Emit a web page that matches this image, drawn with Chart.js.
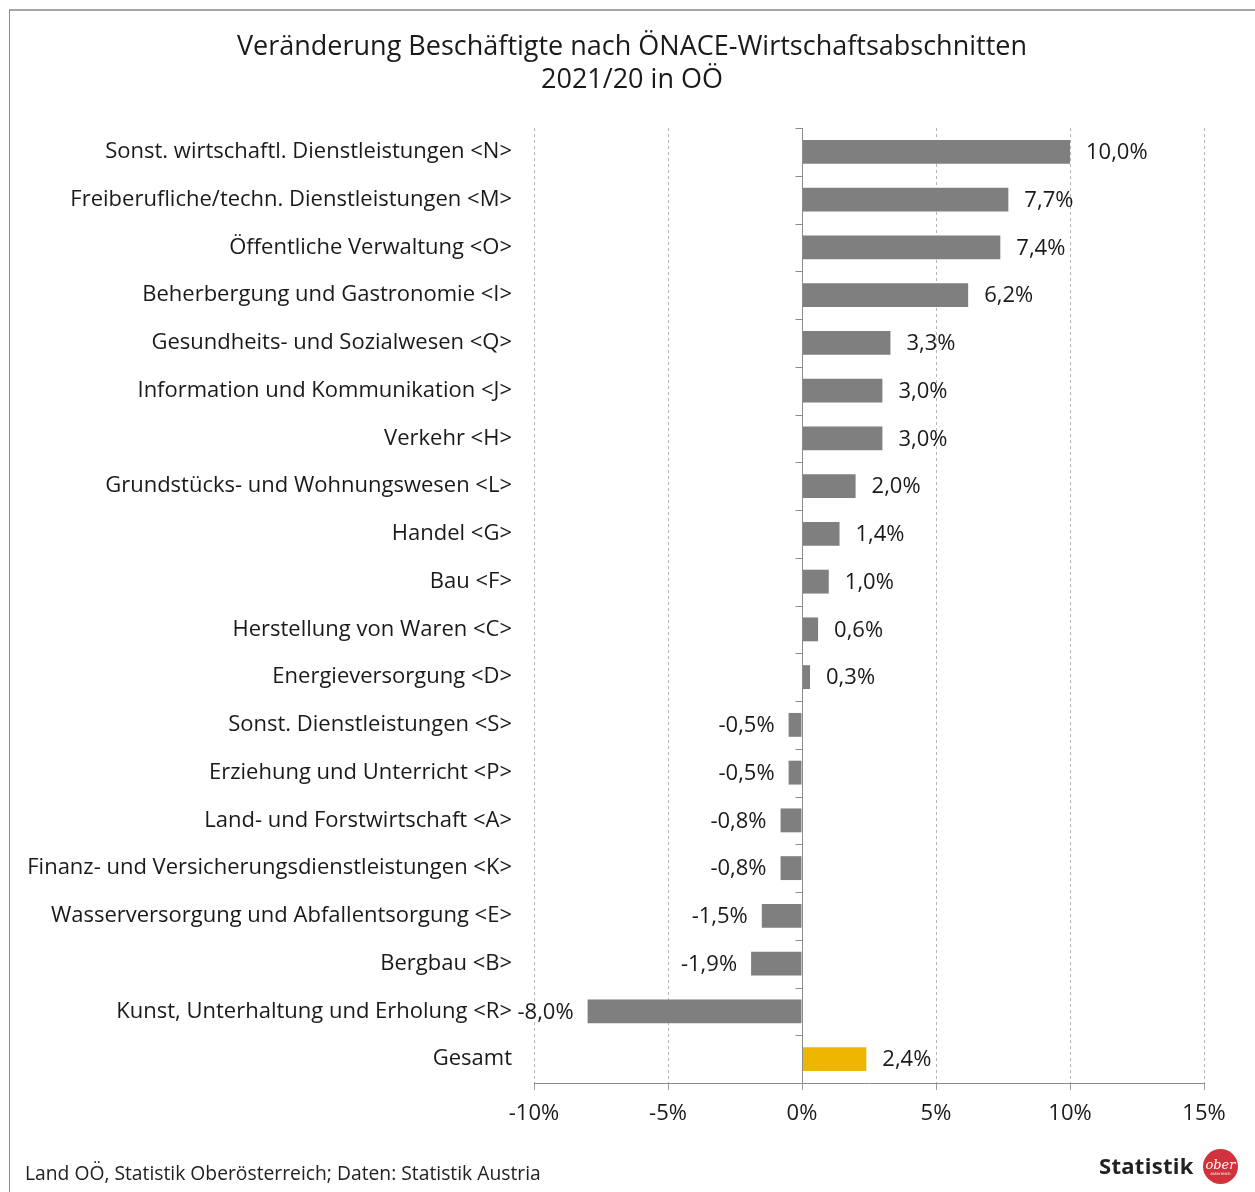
<!DOCTYPE html>
<html lang="de">
<head>
<meta charset="utf-8">
<script src="https://cdn.jsdelivr.net/npm/chart.js@4.4.1/dist/chart.umd.min.js"></script>
<style>
  html, body { margin: 0; padding: 0; background: #fff; }
  #wrap { position: relative; width: 1255px; height: 1192px; overflow: hidden; }
  #frame { position: absolute; left: 9px; top: 9px; width: 1300px; height: 1300px;
           border-top: 2px solid #a6a6a6; border-left: 1px solid #8c8c8c; }
  canvas { position: absolute; left: 0; top: 0; }
  #title { position: absolute; left: 0; top: 28px; width: 1264px; text-align: center;
           font-family: "Open Sans", sans-serif; font-size: 27px; line-height: 33px; color: #1a1a1a; }
  #source { position: absolute; left: 25px; top: 1159px; font-family: "Open Sans", sans-serif;
            font-size: 19.3px; color: #222; }
  #logo { position: absolute; left: 1099px; top: 1149px; height: 36px; }
  #logo .txt { position: absolute; left: 0; top: 1px; font-family: "Open Sans", sans-serif; font-weight: 700;
               font-size: 22px; color: #222; letter-spacing: 0.3px; }
  #logo .circ { position: absolute; left: 104px; top: 0; width: 35px; height: 35px; border-radius: 50%;
                background: #d1323b; color: #fff; text-align: center; }
  #logo .circ .a { font-family: "DejaVu Serif", serif; font-style: italic; font-size: 13px; line-height: 13px;
                   display: block; margin-top: 9px; }
  #logo .circ .b { font-family: "DejaVu Sans", sans-serif; font-size: 4px; line-height: 5px; display: block; }
</style>
</head>
<body>
<div id="wrap">
  <div id="frame"></div>
  <canvas id="chart" width="1255" height="1192"></canvas>
  <div id="title">Veränderung Beschäftigte nach ÖNACE-Wirtschaftsabschnitten<br>2021/20 in OÖ</div>
  <div id="source">Land OÖ, Statistik Oberösterreich; Daten: Statistik Austria</div>
  <div id="logo"><span class="txt">Statistik</span><div class="circ"><span class="a">ober</span><span class="b">österreich</span></div></div>
</div>
<script>
const categories = [
  'Sonst. wirtschaftl. Dienstleistungen <N>',
  'Freiberufliche/techn. Dienstleistungen <M>',
  'Öffentliche Verwaltung <O>',
  'Beherbergung und Gastronomie <I>',
  'Gesundheits- und Sozialwesen <Q>',
  'Information und Kommunikation <J>',
  'Verkehr <H>',
  'Grundstücks- und Wohnungswesen <L>',
  'Handel <G>',
  'Bau <F>',
  'Herstellung von Waren <C>',
  'Energieversorgung <D>',
  'Sonst. Dienstleistungen <S>',
  'Erziehung und Unterricht <P>',
  'Land- und Forstwirtschaft <A>',
  'Finanz- und Versicherungsdienstleistungen <K>',
  'Wasserversorgung und Abfallentsorgung <E>',
  'Bergbau <B>',
  'Kunst, Unterhaltung und Erholung <R>',
  'Gesamt'
];
const changes = [10.0, 7.7, 7.4, 6.2, 3.3, 3.0, 3.0, 2.0, 1.4, 1.0, 0.6, 0.3,
                 -0.5, -0.5, -0.8, -0.8, -1.5, -1.9, -8.0, 2.4];
const xTicks = [-10, -5, 0, 5, 10, 15];

const FONT = '"Open Sans", sans-serif';
const GREY = '#7f7f7f';
const GOLD = '#edb600';

function fmt(v) {
  return v.toFixed(1).replace('.', ',') + '%';
}

// zero line with category ticks + value labels
const extras = {
  id: 'extras',
  afterDatasetsDraw(chart) {
    const { ctx, chartArea } = chart;
    const x = chart.scales.x;
    const x0 = Math.round(x.getPixelForValue(0)) + 0.5;
    ctx.save();
    ctx.strokeStyle = '#8c8c8c';
    ctx.lineWidth = 1;
    ctx.beginPath();
    ctx.moveTo(x0, chartArea.top);
    ctx.lineTo(x0, chartArea.bottom);
    const step = (chartArea.bottom - chartArea.top) / categories.length;
    for (let i = 0; i <= categories.length; i++) {
      const yy = Math.round(chartArea.top + i * step) + 0.5;
      ctx.moveTo(x0 - 7, yy);
      ctx.lineTo(x0, yy);
    }
    ctx.stroke();

    ctx.fillStyle = '#1a1a1a';
    ctx.font = '22px ' + FONT;
    ctx.textBaseline = 'middle';
    const meta = chart.getDatasetMeta(0);
    meta.data.forEach((bar, i) => {
      const v = changes[i];
      if (v >= 0) {
        ctx.textAlign = 'left';
        ctx.fillText(fmt(v), bar.x + 16, bar.y + 1);
      } else {
        ctx.textAlign = 'right';
        ctx.fillText(fmt(v), bar.x - 14, bar.y + 1);
      }
    });
    ctx.restore();
  }
};

new Chart(document.getElementById('chart'), {
  type: 'bar',
  data: {
    labels: categories,
    datasets: [{
      data: changes,
      backgroundColor: categories.map(c => c === 'Gesamt' ? GOLD : GREY),
      barPercentage: 0.5,
      categoryPercentage: 1.0
    }]
  },
  options: {
    indexAxis: 'y',
    responsive: false,
    animation: false,
    layout: { padding: { left: 4, right: 51, top: 128, bottom: 49 } },
    plugins: {
      legend: { display: false },
      tooltip: { enabled: false },
      title: { display: false }
    },
    scales: {
      x: {
        min: -10,
        max: 15,
        afterBuildTicks(scale) { scale.ticks = xTicks.map(v => ({ value: v })); },
        afterFit(scale) { scale.height = 60; },
        ticks: {
          color: '#1a1a1a',
          font: { family: FONT, size: 22 },
          padding: 11,
          callback: v => v + '%'
        },
        grid: {
          color: ctx => ctx.tick && ctx.tick.value === 0 ? 'rgba(0,0,0,0)' : '#b3b3b3',
          tickColor: '#9a9a9a',
          tickLength: 7,
          tickBorderDash: []
        },
        border: { display: true, color: '#8c8c8c', dash: [3, 3] }
      },
      y: {
        afterFit(scale) { scale.width = 530; },
        ticks: {
          color: '#1a1a1a',
          font: { family: FONT, size: 22 },
          padding: 14,
          autoSkip: false
        },
        grid: { display: false },
        border: { display: false }
      }
    }
  },
  plugins: [extras]
});
</script>
</body>
</html>
